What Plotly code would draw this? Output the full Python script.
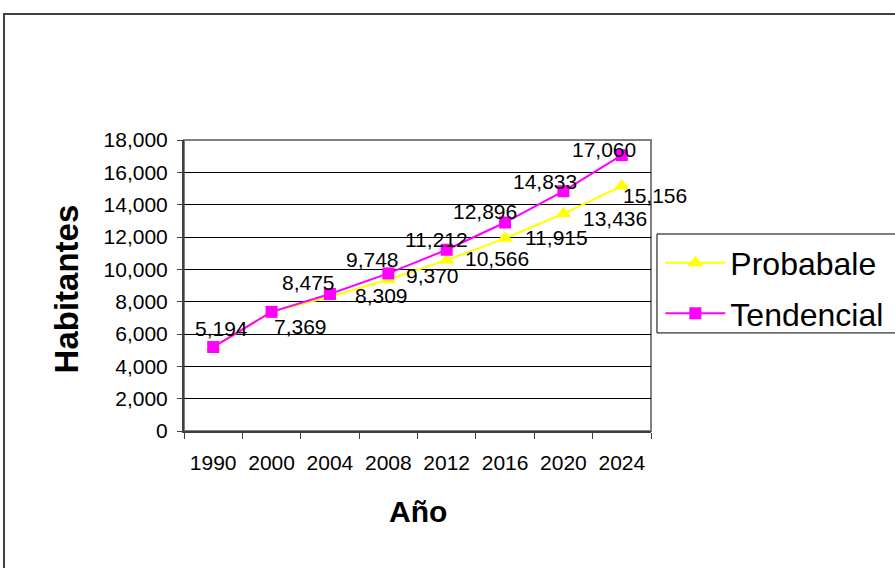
import plotly.graph_objects as go

years = ["1990", "2000", "2004", "2008", "2012", "2016", "2020", "2024"]
probable = [5194, 7369, 8309, 9370, 10566, 11915, 13436, 15156]
tendencial = [5194, 7369, 8475, 9748, 11212, 12896, 14833, 17060]
y_ticks = [0, 2000, 4000, 6000, 8000, 10000, 12000, 14000, 16000, 18000]

# which points show a data label, and label offsets (pixels)
prob_show = [False, True, True, True, True, True, True, True]
prob_dx = [0, 29, 52, 44, 50, 51, 52, 33]
prob_dy = [0, -15, 1, 4, 2, 1, -5, -10]
tend_show = [True, False, True, True, True, True, True, True]
tend_dx = [8, 0, -21, -16, -10, -20, -18, -18]
tend_dy = [19, 0, 11, 14, 10, 11, 10, 6]

FONT = "Liberation Sans, Arial, sans-serif"

fig = go.Figure()
fig.add_trace(go.Scatter(
    x=years, y=probable, name="Probabale", mode="lines+markers", legendgroup="a",
    line=dict(color="#FFFF00", width=2),
    marker=dict(symbol="triangle-up", size=14, color="#FFFF00"),
))
fig.add_trace(go.Scatter(
    x=years, y=tendencial, name="Tendencial", mode="lines+markers", legendgroup="b",
    line=dict(color="#FF00FF", width=2),
    marker=dict(symbol="square", size=12, color="#FF00FF"),
))

ann = []
for i, v in enumerate(probable):
    if prob_show[i]:
        ann.append(dict(x=i, y=v, xref="x", yref="y", text=f"{v:,}", showarrow=False,
                        xshift=prob_dx[i], yshift=prob_dy[i],
                        font=dict(family=FONT, size=21, color="#000")))
for i, v in enumerate(tendencial):
    if tend_show[i]:
        ann.append(dict(x=i, y=v, xref="x", yref="y", text=f"{v:,}", showarrow=False,
                        xshift=tend_dx[i], yshift=tend_dy[i],
                        font=dict(family=FONT, size=21, color="#000")))

ann.append(dict(x=-0.2527, y=0.49, xref="paper", yref="paper", text="<b>Habitantes</b>",
                xanchor="center", yanchor="middle",
                textangle=-90, showarrow=False, font=dict(family=FONT, size=33, color="#000")))
ann.append(dict(x=0.502, y=-0.278, xref="paper", yref="paper", text="<b>Año</b>",
                xanchor="center", yanchor="middle",
                showarrow=False, font=dict(family=FONT, size=30, color="#000")))

fig.update_layout(
    width=895, height=568,
    margin=dict(l=184, r=244, t=140, b=137, autoexpand=False),
    paper_bgcolor="white", plot_bgcolor="white",
    font=dict(family=FONT, size=21, color="#000"),
    showlegend=True,
    legend=dict(x=1.02, y=0.672, xanchor="left", yanchor="top",
                borderwidth=0, bgcolor="rgba(0,0,0,0)",
                font=dict(family=FONT, size=32, color="#000"),
                itemwidth=60,
                traceorder="grouped", tracegroupgap=6),
    annotations=ann,
    shapes=[
        dict(type="rect", xref="paper", yref="paper", x0=-0.3854, y0=-1, x1=3, y1=1.433,
             line=dict(color="#404040", width=2), layer="below"),
        dict(type="rect", xref="paper", yref="paper", x0=0, y0=0, x1=1, y1=1,
             line=dict(color="#808080", width=2), layer="below"),
        dict(type="rect", xref="paper", yref="paper", x0=1.0128, y0=0.337, x1=3, y1=0.677,
             line=dict(color="#000", width=1), layer="below"),
    ],
    xaxis=dict(type="category", range=[-0.5, 7.5], tickson="boundaries", ticks="outside",
               ticklen=6, tickcolor="#404040", showline=True, linecolor="#404040", linewidth=2,
               showgrid=False, tickfont=dict(size=21), ticklabelstandoff=12, fixedrange=True),
    yaxis=dict(range=[0, 18000], tickvals=y_ticks, tickformat=",d", ticks="outside",
               ticklen=5, tickcolor="#404040", showline=True, linecolor="#404040",
               linewidth=2, showgrid=True, gridcolor="#000", gridwidth=1, zeroline=False,
               tickfont=dict(size=21), ticklabelstandoff=5, fixedrange=True),
)

fig.write_html("out.html", config={"displayModeBar": False},
               post_script="document.body.style.margin='0';document.body.style.overflow='hidden';")
